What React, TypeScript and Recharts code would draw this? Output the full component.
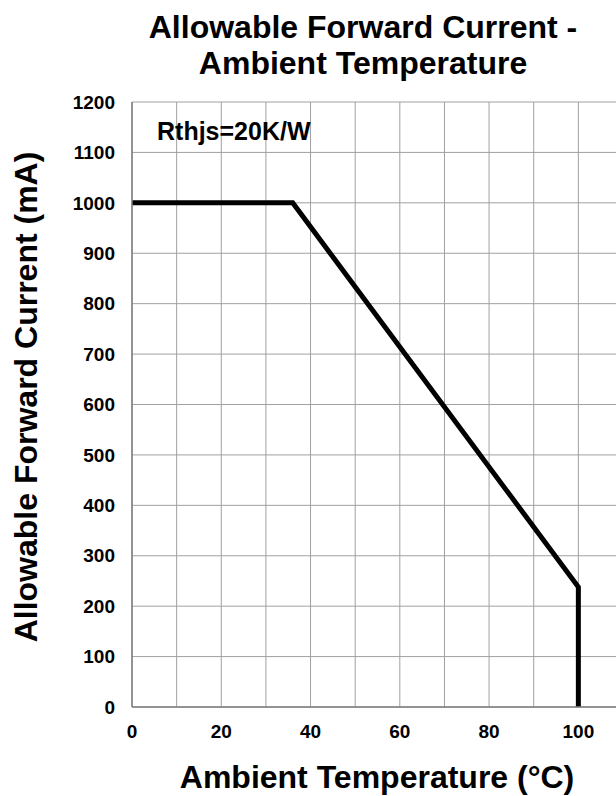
import React from 'react';
import { LineChart, Line, XAxis, YAxis, CartesianGrid } from 'recharts';

// derating curve
const temperatures = [0, 36, 100, 100];
const currents = [1000, 1000, 238, 0];

const xGridTicks = [0, 10, 20, 30, 40, 50, 60, 70, 80, 90, 100, 110];
const xLabelTicks = [0, 20, 40, 60, 80, 100];
const yTicks = [0, 100, 200, 300, 400, 500, 600, 700, 800, 900, 1000, 1100, 1200];

const titleLines = ['Allowable Forward Current -', 'Ambient Temperature'];
const xTitle = 'Ambient Temperature (°C)';
const yTitle = 'Allowable Forward Current (mA)';
const note = 'Rthjs=20K/W';

const data = temperatures.map((t, i) => ({ t, current: currents[i] }));

const FONT = '"Liberation Sans", Arial, sans-serif';

export default function App() {
  const tick = { fill: '#000', fontSize: 19, fontWeight: 700, fontFamily: FONT };
  return (
    <div
      style={{
        position: 'fixed',
        left: 0,
        top: 0,
        width: 616,
        height: 796,
        overflow: 'hidden',
        background: '#fff',
        fontFamily: FONT,
        fontWeight: 700,
        color: '#000',
      }}
    >
      <LineChart
        width={650}
        height={796}
        data={data}
        margin={{ top: 102, right: 27, bottom: 59, left: 72 }}
      >
        <CartesianGrid stroke="#a0a0a0" strokeWidth={1} />
        <XAxis
          dataKey="t"
          type="number"
          domain={[0, 110]}
          ticks={xGridTicks}
          interval={0}
          height={30}
          tickSize={0}
          tickMargin={18}
          tickLine={false}
          axisLine={{ stroke: '#7f7f7f', strokeWidth: 1.5 }}
          tick={tick}
          tickFormatter={(v: number) => (xLabelTicks.includes(v) ? String(v) : '')}
        />
        <YAxis
          type="number"
          domain={[0, 1200]}
          ticks={yTicks}
          interval={0}
          width={60}
          tickSize={0}
          tickMargin={17}
          tickLine={false}
          axisLine={{ stroke: '#7f7f7f', strokeWidth: 1.5 }}
          tick={tick}
        />
        <Line
          type="linear"
          dataKey="current"
          stroke="#000"
          strokeWidth={5}
          strokeLinejoin="miter"
          dot={false}
          activeDot={false}
          isAnimationActive={false}
        />
      </LineChart>

      <div
        style={{
          position: 'absolute',
          left: 363,
          top: 9,
          transform: 'translateX(-50%)',
          fontSize: 32,
          lineHeight: '36px',
          textAlign: 'center',
          whiteSpace: 'nowrap',
        }}
      >
        {titleLines.map((l) => (
          <div key={l}>{l}</div>
        ))}
      </div>

      <div
        style={{
          position: 'absolute',
          left: 157,
          top: 119,
          fontSize: 25,
          lineHeight: '25px',
          whiteSpace: 'nowrap',
        }}
      >
        {note}
      </div>

      <div
        style={{
          position: 'absolute',
          left: 377,
          top: 761,
          transform: 'translateX(-50%)',
          fontSize: 32,
          lineHeight: '32px',
          whiteSpace: 'nowrap',
        }}
      >
        {xTitle}
      </div>

      <div
        style={{
          position: 'absolute',
          left: 26,
          top: 397,
          transform: 'translate(-50%, -50%) rotate(-90deg)',
          fontSize: 32,
          lineHeight: '32px',
          whiteSpace: 'nowrap',
        }}
      >
        {yTitle}
      </div>
    </div>
  );
}
